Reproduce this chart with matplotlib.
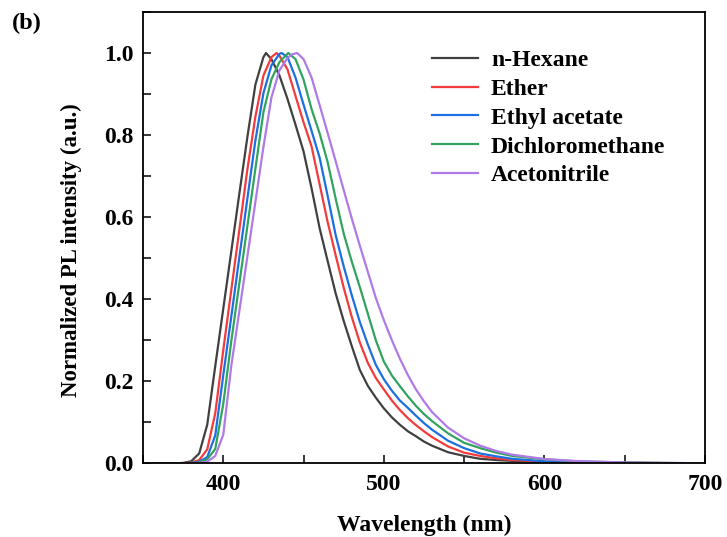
import matplotlib
matplotlib.use("Agg")
import matplotlib.pyplot as plt
from matplotlib.ticker import MultipleLocator

plt.rcParams['font.family'] = ['Liberation Serif', 'DejaVu Serif']
plt.rcParams['font.weight'] = 'bold'

# ---- data ----
series_names = ["n-Hexane", "Ether", "Ethyl acetate", "Dichloromethane", "Acetonitrile"]
series_colors = ["#404040", "#F23B3B", "#1C6FE0", "#31A35F", "#B07AE6"]

wl_hexane = [350, 370, 375, 380, 385, 390, 395, 400, 405, 410, 415, 420, 425, 426.6, 430, 435, 440,
             445, 450, 455, 460, 465, 470, 475, 480, 485, 490, 495, 500, 505, 510, 515, 520, 525,
             530, 540, 550, 560, 570, 580, 600, 620, 650, 700]
pl_hexane = [0, 0, 0.001, 0.005, 0.024, 0.094, 0.237, 0.377, 0.517, 0.657, 0.795, 0.923, 0.99, 1.0,
             0.985, 0.945, 0.888, 0.825, 0.76, 0.67, 0.573, 0.493, 0.414, 0.347, 0.286, 0.228,
             0.189, 0.16, 0.134, 0.112, 0.094, 0.078, 0.066, 0.053, 0.043, 0.027, 0.018, 0.011,
             0.008, 0.006, 0.003, 0.0015, 0.0008, 0]

wl_ether = [350, 370, 375, 380, 385, 390, 395, 400, 405, 410, 415, 420, 425, 430, 433.2, 435, 440,
            445, 450, 455, 460, 465, 470, 475, 480, 485, 490, 495, 500, 505, 510, 515, 520, 525,
            530, 540, 550, 560, 570, 580, 600, 620, 650, 700]
pl_ether = [0, 0, 0, 0.002, 0.008, 0.034, 0.122, 0.276, 0.423, 0.569, 0.716, 0.845, 0.945, 0.99, 1.0,
            0.993, 0.96, 0.895, 0.831, 0.772, 0.68, 0.588, 0.507, 0.428, 0.357, 0.295, 0.245,
            0.208, 0.18, 0.153, 0.13, 0.11, 0.093, 0.078, 0.064, 0.041, 0.026, 0.018, 0.012,
            0.008, 0.004, 0.002, 0.001, 0]

wl_ethyl = [350, 370, 375, 380, 385, 390, 395, 400, 405, 410, 415, 420, 425, 430, 435, 436.3, 440,
            445, 450, 455, 460, 465, 470, 475, 480, 485, 490, 495, 500, 505, 510, 515, 520, 525,
            530, 540, 550, 560, 570, 580, 600, 620, 650, 700]
pl_ethyl = [0, 0, 0, 0.001, 0.004, 0.015, 0.068, 0.215, 0.358, 0.502, 0.645, 0.787, 0.902, 0.97,
            0.998, 1.0, 0.99, 0.94, 0.874, 0.81, 0.745, 0.652, 0.556, 0.48, 0.41, 0.345, 0.29,
            0.24, 0.205, 0.177, 0.153, 0.135, 0.116, 0.098, 0.082, 0.055, 0.037, 0.024, 0.017,
            0.011, 0.005, 0.0025, 0.001, 0]

wl_dcm = [350, 370, 375, 380, 385, 390, 395, 400, 405, 410, 415, 420, 425, 430, 435, 440.5,
          445, 450, 455, 460, 465, 470, 475, 480, 485, 490, 495, 500, 505, 510, 515, 520, 525,
          530, 540, 550, 560, 570, 580, 600, 620, 650, 700]
pl_dcm = [0, 0, 0, 0.001, 0.002, 0.01, 0.035, 0.145, 0.298, 0.438, 0.578, 0.718, 0.856, 0.936,
          0.978, 1.0, 0.985, 0.935, 0.863, 0.804, 0.734, 0.645, 0.56, 0.492, 0.43, 0.365, 0.3,
          0.248, 0.214, 0.188, 0.163, 0.14, 0.12, 0.103, 0.073, 0.05, 0.037, 0.026, 0.018,
          0.01, 0.005, 0.002, 0]

wl_acn = [350, 370, 375, 380, 385, 390, 395, 400, 405, 410, 415, 420, 425, 430, 435, 440, 443, 446,
          450, 455, 460, 465, 470, 475, 480, 485, 490, 495, 500, 505, 510, 515, 520, 525,
          530, 540, 550, 560, 570, 580, 600, 620, 650, 700]
pl_acn = [0, 0, 0, 0, 0.001, 0.004, 0.018, 0.07, 0.238, 0.371, 0.504, 0.637, 0.771, 0.892, 0.958,
          0.988, 0.997, 1.0, 0.985, 0.94, 0.873, 0.805, 0.736, 0.666, 0.597, 0.531, 0.467, 0.403, 0.349,
          0.3, 0.255, 0.215, 0.18, 0.151, 0.125, 0.087, 0.061, 0.043, 0.03, 0.021, 0.0105,
          0.0056, 0.002, 0]

x_series = [wl_hexane, wl_ether, wl_ethyl, wl_dcm, wl_acn]
y_series = [pl_hexane, pl_ether, pl_ethyl, pl_dcm, pl_acn]

x_ticks = [400, 500, 600, 700]
y_ticks = [0.0, 0.2, 0.4, 0.6, 0.8, 1.0]

# ---- figure ----
fig = plt.figure(figsize=(7.27, 5.37), dpi=100)
ax = fig.add_axes([0.1967, 0.1372, 0.7730, 0.8405])

for xs, ys, name, c in zip(x_series, y_series, series_names, series_colors):
    ax.plot(xs, ys, color=c, lw=1.6, label=name)

ax.set_xlim(350, 700)
ax.set_ylim(0, 1.1)
ax.set_xticks(x_ticks)
ax.set_yticks(y_ticks)
ax.set_yticklabels([f"{v:.1f}" for v in y_ticks])
ax.xaxis.set_minor_locator(MultipleLocator(50))
ax.yaxis.set_minor_locator(MultipleLocator(0.1))
ax.tick_params(which='both', direction='in', length=6, width=1.1, labelsize=17)
ax.tick_params(axis='x', pad=8)
ax.tick_params(axis='y', pad=7)
for s in ax.spines.values():
    s.set_linewidth(1.3)

ax.set_xlabel("Wavelength (nm)", fontsize=17, fontweight='bold', labelpad=14)
ax.set_ylabel("Normalized PL intensity (a.u.)", fontsize=16.5, fontweight='bold')
ax.yaxis.set_label_coords(-0.108, 0.4726)

fig.text(0.016, 0.957, "(b)", fontsize=17.5, fontweight='bold', va='center', ha='left')

leg = ax.legend(loc='upper left', bbox_to_anchor=(0.514, 0.917), frameon=False,
                prop={'size': 17, 'weight': 'bold'}, handlelength=1.95,
                labelspacing=0.31, handletextpad=0.55, borderpad=0, borderaxespad=0)

fig.savefig("out.png", dpi=100)
